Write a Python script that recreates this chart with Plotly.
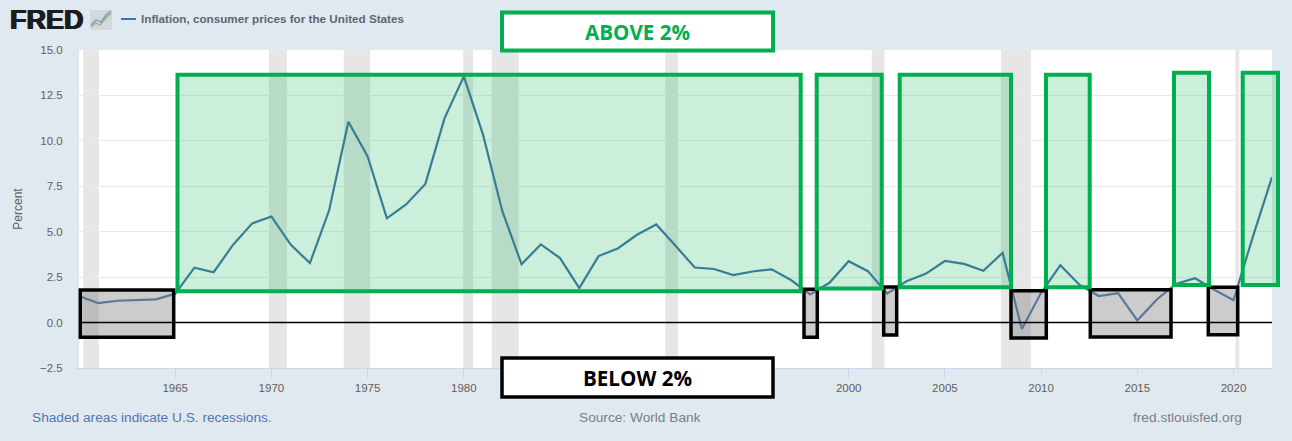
import plotly.graph_objects as go

# inflation, consumer prices for the United States (annual, percent)
years = list(range(1960, 2023))
inflation = [1.46, 1.07, 1.20, 1.24, 1.28, 1.59, 3.02, 2.77, 4.27, 5.46,
             5.84, 4.29, 3.27, 6.18, 11.05, 9.14, 5.74, 6.50, 7.63, 11.25,
             13.55, 10.33, 6.13, 3.21, 4.30, 3.55, 1.90, 3.66, 4.08, 4.83,
             5.40, 4.23, 3.03, 2.95, 2.61, 2.81, 2.93, 2.34, 1.55, 2.19,
             3.38, 2.83, 1.59, 2.27, 2.68, 3.39, 3.23, 2.85, 3.84, -0.36,
             1.64, 3.16, 2.07, 1.46, 1.62, 0.12, 1.26, 2.13, 2.44, 1.81,
             1.23, 4.70, 8.00]

# 1985, 1990 and 1995 are hidden behind the BELOW 2% box in the original
x_ticks = [1965, 1970, 1975, 1980, 2000, 2005, 2010, 2015, 2020]
y_ticks = [-2.5, 0, 2.5, 5, 7.5, 10, 12.5, 15]

# recession start and end, in fractional years
recession_start = [1960.22, 1969.87, 1973.76, 1979.97, 1981.45, 1990.47, 2001.2, 2007.92, 2020.1]
recession_end = [1961.03, 1970.8, 1975.13, 1980.48, 1982.85, 1991.13, 2001.85, 2009.47, 2020.3]

# boxes pasted over the chart, in page pixels (left, top, right, bottom)
green_boxes = [(177.5, 74.7, 800.7, 291.3), (816.7, 74.7, 881.7, 288.5),
               (899.7, 74.7, 1011, 287.3), (1046, 74.7, 1089.7, 287.3),
               (1174, 72.7, 1209, 285), (1242.7, 72.7, 1278, 285)]
black_boxes = [(80.3, 290, 173.7, 337.3), (804, 289.3, 817.3, 337.3),
               (883.7, 287, 896.7, 335), (1011, 290.7, 1046.3, 338),
               (1090.3, 289.7, 1171, 337), (1208.3, 287.3, 1237.7, 334.7)]

WIDTH, HEIGHT = 1292, 441
LEFT, RIGHT, TOP, BOTTOM = 79, 1272, 50, 368
BG = '#e1e9f0'
GREEN = '#00b050'
FONT = 'Liberation Sans'


# page pixels to paper coordinates
def px(x):
    return (x - LEFT) / (RIGHT - LEFT)


def py(y):
    return (BOTTOM - y) / (BOTTOM - TOP)


def pixel_rect(box, **kwargs):
    return dict(type='rect', xref='paper', yref='paper', x0=px(box[0]), y0=py(box[1]),
                x1=px(box[2]), y1=py(box[3]), **kwargs)


def pixel_line(x0, y0, x1, y1, color, width):
    return dict(type='line', xref='paper', yref='paper', x0=px(x0), y0=py(y0),
                x1=px(x1), y1=py(y1), line=dict(color=color, width=width))


def pixel_text(x, y, text, color, size, anchor='left', family=FONT, shadow=None):
    font = dict(family=family, size=size, color=color)
    if shadow:
        font['shadow'] = shadow
    return dict(xref='paper', yref='paper', x=px(x), y=py(y), text=text, showarrow=False,
                xanchor=anchor, yanchor='middle', font=font)


shapes = []

# recession bands
for start, end in zip(recession_start, recession_end):
    shapes.append(dict(type='rect', xref='x', yref='paper', x0=start, x1=end, y0=0, y1=1,
                       fillcolor='#e6e6e6', line_width=0, layer='below'))

# zero line sits on top of the grey boxes
for box in black_boxes:
    shapes.append(pixel_rect(box, fillcolor='rgba(127,127,127,0.4)', line=dict(color='black', width=3.5)))
for box in green_boxes:
    shapes.append(pixel_rect(box, fillcolor='rgba(0,176,80,0.2)', line=dict(color=GREEN, width=4)))
shapes.append(dict(type='line', xref='paper', yref='y', x0=0, x1=1, y0=0, y1=0,
                   line=dict(color='black', width=1.5)))

# label boxes
shapes.append(pixel_rect((502, 12.5, 773, 50.5), fillcolor='white', line=dict(color=GREEN, width=4)))
shapes.append(pixel_rect((502, 358, 773, 397), fillcolor='white', line=dict(color='black', width=3.5)))

# FRED icon and legend key
shapes.append(pixel_rect((90, 10, 112, 30), fillcolor='#d5d8db', line_width=0))
shapes.append(dict(type='path', xref='paper', yref='paper', line=dict(color='#8fb27c', width=1.3),
                   path=f'M {px(91)} {py(27)} L {px(96)} {py(23)} L {px(100)} {py(25)} '
                        f'L {px(105)} {py(19)} L {px(111)} {py(13)}'))
shapes.append(dict(type='path', xref='paper', yref='paper', line=dict(color='#7596bb', width=1.3),
                   path=f'M {px(91)} {py(25)} L {px(96)} {py(20)} L {px(101)} {py(22)} '
                        f'L {px(106)} {py(15)} L {px(111)} {py(11)}'))
shapes.append(pixel_line(121, 19, 136, 19, '#4572a7', 2))

annotations = [
    pixel_text(8, 20.5, '<b>FRED</b>', '#1c1c1c', 27, shadow='0.7px 0 0 #1c1c1c, -0.7px 0 0 #1c1c1c'),
    pixel_text(139, 19, '<b>Inflation, consumer prices for the United States</b>', '#5f6670', 11.7),
    pixel_text(637.5, 31.5, '<b>ABOVE 2%</b>', GREEN, 20.6, 'center', 'Open Sans'),
    pixel_text(637.5, 377.5, '<b>BELOW 2%</b>', 'black', 20.6, 'center', 'Open Sans'),
    pixel_text(30, 417, 'Shaded areas indicate U.S. recessions.', '#4f77ae', 13.7),
    pixel_text(640, 417, 'Source: World Bank', '#7b7f85', 13.7, 'center'),
    pixel_text(1244, 417, 'fred.stlouisfed.org', '#7b7f85', 13.7, 'right'),
]

fig = go.Figure(go.Scatter(x=years, y=inflation, mode='lines', hoverinfo='skip',
                           line=dict(color='#4572a7', width=2.2)))

fig.update_layout(
    width=WIDTH, height=HEIGHT, showlegend=False,
    margin=dict(l=LEFT, r=WIDTH - RIGHT, t=TOP, b=HEIGHT - BOTTOM, pad=0),
    paper_bgcolor=BG, plot_bgcolor='white',
    font=dict(family=FONT, size=11, color='#5f5f5f'),
    shapes=shapes, annotations=annotations,
)
fig.update_xaxes(range=[1960, 2022], tickvals=x_ticks, ticks='outside', ticklen=9, tickwidth=1,
                 tickcolor='#ccd6eb', showgrid=False, zeroline=False, showline=True,
                 linecolor='#ccd6eb', linewidth=1, tickfont=dict(size=11.5, color='#5f5f5f'))
fig.update_yaxes(range=[-2.5, 15], tickvals=y_ticks, tickformat='.1f', ticks='outside', ticklen=12,
                 tickcolor='rgba(0,0,0,0)', gridcolor='#eaeaea', gridwidth=1.2, zeroline=False,
                 showline=True, linecolor='#dde5f0', linewidth=2,
                 title=dict(text='Percent', standoff=15, font=dict(size=12, color='#5f5f5f')),
                 tickfont=dict(size=11.5, color='#5f5f5f'))

# drop the page margin so the figure sits at the window corner
fig.write_html('out.html', config=dict(displayModeBar=False),
               post_script="document.body.style.margin='0';document.body.style.overflow='hidden';")
